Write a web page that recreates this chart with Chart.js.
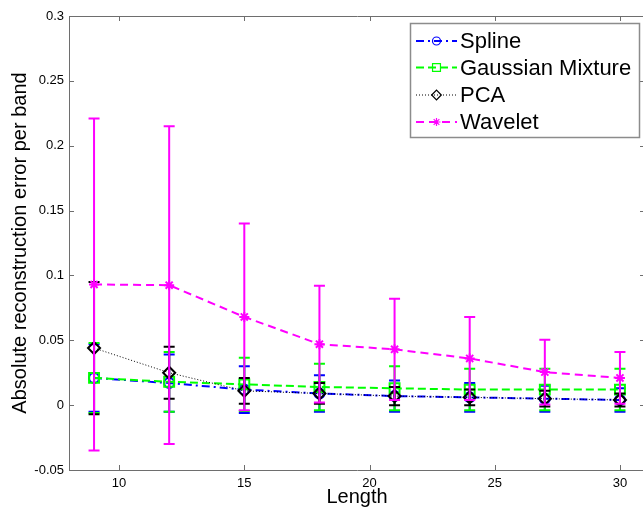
<!DOCTYPE html>
<html><head><meta charset="utf-8">
<script src="https://cdn.jsdelivr.net/npm/chart.js@4/dist/chart.umd.min.js"></script>
<style>
html,body{margin:0;padding:0;overflow:hidden;background:#fff;width:643px;height:513px}
#wrap{position:absolute;left:0;top:0;width:648px;height:513px}
</style>
</head><body><div id="wrap"><canvas id="c" width="648" height="513"></canvas></div>
<script>
const lengths = [9, 12, 15, 18, 21, 24, 27, 30];
const seriesNames = ['Spline', 'Gaussian Mixture', 'PCA', 'Wavelet'];
const splineMean = [0.021, 0.017, 0.012, 0.009, 0.007, 0.006, 0.005, 0.004];
const splineErr  = [0.026, 0.022, 0.018, 0.014, 0.012, 0.011, 0.010, 0.009];
const gmmMean    = [0.021, 0.018, 0.016, 0.014, 0.013, 0.012, 0.012, 0.012];
const gmmErr     = [0.027, 0.023, 0.0205, 0.018, 0.017, 0.016, 0.016, 0.016];
const pcaMean    = [0.044, 0.025, 0.011, 0.009, 0.007, 0.006, 0.005, 0.004];
const pcaErr     = [0.051, 0.020, 0.010, 0.008, 0.007, 0.006, 0.006, 0.005];
const waveMean   = [0.093, 0.0925, 0.068, 0.047, 0.043, 0.036, 0.0255, 0.021];
const waveErr    = [0.128, 0.1225, 0.072, 0.045, 0.039, 0.032, 0.025, 0.020];
const xTicks = [10, 15, 20, 25, 30];
const yTicks = [-0.05, 0, 0.05, 0.1, 0.15, 0.2, 0.25, 0.3];

const FONT = "'Liberation Sans', Arial, Helvetica, sans-serif";
const styles = [
  {color:'#0000ff', dash:[8,4,2,4], width:2, point:'circle', radius:5},
  {color:'#00ff00', dash:[8,4], width:2, point:'rect', radius:7},
  {color:'#000000', dash:[1,2], width:1, point:'rectRot', radius:6},
  {color:'#ff00ff', dash:[8,5], width:2, point:'star', radius:5}
];
const means = [splineMean, gmmMean, pcaMean, waveMean];
const errs = [splineErr, gmmErr, pcaErr, waveErr];

const datasets = seriesNames.map((name, k) => ({
  label: name,
  data: lengths.map((x, i) => ({x: x, y: means[k][i]})),
  errors: errs[k],
  borderColor: styles[k].color,
  borderWidth: styles[k].width,
  borderDash: styles[k].dash,
  pointStyle: styles[k].point,
  pointRadius: styles[k].radius,
  pointBorderWidth: 2,
  pointBorderColor: styles[k].color,
  pointBackgroundColor: 'rgba(0,0,0,0)',
  fill: false,
  tension: 0,
  order: 4 - k
}));

const errPlugin = {
  id: 'errbars',
  afterDatasetDraw(chart, args) {
    const ds = chart.data.datasets[args.index];
    if (!ds.errors) return;
    const xs = chart.scales.x, ys = chart.scales.y, ctx = chart.ctx, a = chart.chartArea;
    ctx.save();
    ctx.beginPath(); ctx.rect(a.left, a.top, a.right - a.left, a.bottom - a.top); ctx.clip();
    ctx.strokeStyle = ds.borderColor; ctx.lineWidth = 2; ctx.setLineDash([]);
    ds.data.forEach((p, i) => {
      const x = xs.getPixelForValue(p.x);
      const y1 = ys.getPixelForValue(p.y + ds.errors[i]);
      const y2 = ys.getPixelForValue(p.y - ds.errors[i]);
      ctx.beginPath();
      ctx.moveTo(x, y1); ctx.lineTo(x, y2);
      ctx.moveTo(x - 5.5, y1); ctx.lineTo(x + 5.5, y1);
      ctx.moveTo(x - 5.5, y2); ctx.lineTo(x + 5.5, y2);
      ctx.stroke();
    });
    ctx.restore();
  }
};

function drawMarker(ctx, style, x, y, r) {
  Chart.helpers.drawPoint(ctx, {pointStyle: style.point, radius: r, borderWidth: 1.5, rotation: 0}, x, y);
}

const framePlugin = {
  id: 'frame',
  afterDraw(chart) {
    const ctx = chart.ctx, a = chart.chartArea, xs = chart.scales.x, ys = chart.scales.y;
    ctx.save();
    ctx.strokeStyle = '#6e6e6e'; ctx.lineWidth = 1; ctx.setLineDash([]);
    ctx.beginPath();
    ctx.rect(a.left + 0.5, a.top + 0.5, a.right - a.left, a.bottom - a.top);
    ctx.stroke();
    ctx.beginPath();
    xTicks.forEach(v => {
      const x = Math.round(xs.getPixelForValue(v)) + 0.5;
      ctx.moveTo(x, a.bottom); ctx.lineTo(x, a.bottom - 5);
      ctx.moveTo(x, a.top); ctx.lineTo(x, a.top + 5);
    });
    yTicks.forEach(v => {
      const y = Math.round(ys.getPixelForValue(v)) + 0.5;
      ctx.moveTo(a.left, y); ctx.lineTo(a.left + 5, y);
      ctx.moveTo(a.right, y); ctx.lineTo(a.right - 5, y);
    });
    ctx.stroke();

    // legend
    const bx = 410, by = 23, bw = 229, bh = 114;
    ctx.fillStyle = '#fff';
    ctx.fillRect(bx, by, bw, bh);
    ctx.strokeStyle = '#8c8c8c'; ctx.lineWidth = 1.5;
    ctx.strokeRect(bx + 0.5, by + 0.5, bw, bh);
    const rowsY = [41, 67.5, 95, 122];
    seriesNames.forEach((name, k) => {
      const s = styles[k], y = rowsY[k];
      ctx.strokeStyle = s.color; ctx.lineWidth = s.width;
      ctx.setLineDash(s.dash);
      ctx.beginPath(); ctx.moveTo(416, y); ctx.lineTo(457, y); ctx.stroke();
      ctx.setLineDash([]);
      ctx.fillStyle = 'rgba(0,0,0,0)';
      ctx.strokeStyle = s.color; ctx.lineWidth = 1.2;
      drawMarker(ctx, s, 436.5, y, s.radius * 0.8);
      ctx.fillStyle = '#000';
      ctx.font = '22px ' + FONT;
      ctx.textBaseline = 'middle'; ctx.textAlign = 'left';
      ctx.fillText(name, 460, y + 1);
    });
    ctx.restore();
  }
};

new Chart(document.getElementById('c'), {
  type: 'line',
  data: {datasets: datasets},
  options: {
    responsive: false,
    animation: false,
    devicePixelRatio: 1,
    layout: {autoPadding: false, padding: {top: 16, right: 3, left: 0, bottom: 0}},
    plugins: {legend: {display: false}, tooltip: {enabled: false}},
    scales: {
      x: {
        type: 'linear', min: 8, max: 31,
        afterBuildTicks: s => { s.ticks = xTicks.map(v => ({value: v})); },
        afterFit: s => { s.height = 43; },
        grid: {display: false, drawTicks: false},
        border: {display: false},
        ticks: {color: '#000', font: {family: FONT, size: 13}, padding: 6, maxRotation: 0, autoSkip: false},
        title: {display: true, text: 'Length', color: '#000', font: {family: FONT, size: 20}, padding: {top: 0, bottom: 4}}
      },
      y: {
        type: 'linear', min: -0.05, max: 0.3,
        afterBuildTicks: s => { s.ticks = yTicks.map(v => ({value: v})); },
        afterFit: s => { s.width = 69; },
        grid: {display: false, drawTicks: false},
        border: {display: false},
        ticks: {color: '#000', font: {family: FONT, size: 13}, padding: 5, autoSkip: false,
          callback: v => String(+Number(v).toFixed(2))},
        title: {display: true, text: 'Absolute reconstruction error per band', color: '#000', font: {family: FONT, size: 20}, padding: {top: 8, bottom: 0}}
      }
    }
  },
  plugins: [errPlugin, framePlugin]
});
</script>
</body></html>
